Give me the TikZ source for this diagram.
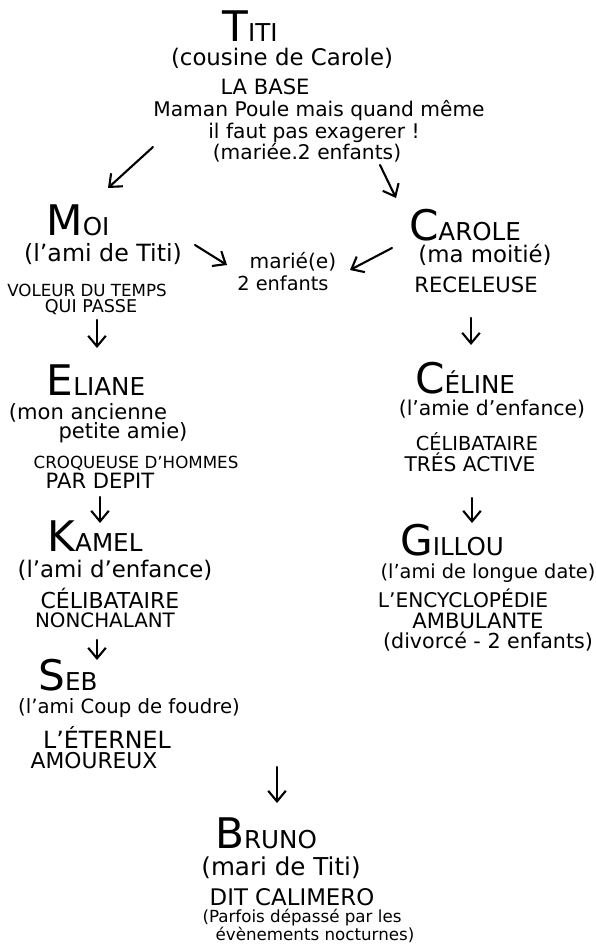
\documentclass[tikz,border=0pt]{standalone}
\usepackage{fontspec}
\setmainfont{DejaVu Sans}
\usetikzlibrary{arrows.meta}

\newcommand{\fs}[1]{\fontsize{#1}{#1}\selectfont}
\newcommand{\pname}[2]{{\fs{24}#1}{\fs{14}#2}}

\tikzset{
	who/.style = {anchor=base, inner sep=0pt},
	role/.style = {anchor=base, inner sep=0pt, font=\fs{12}},
	remark/.style = {anchor=base, inner sep=0pt, font=\fs{11.5}},
	trait/.style = {anchor=base, inner sep=0pt, font=\fs{11.5}},
	arr/.style = {-{Straight Barb[length=6pt,width=10pt]}, line width=1.2pt, line cap=round}
}

\begin{document}
\begin{tikzpicture}[x=0.2mm, y=-0.2mm]
			\useasboundingbox (0,0) rectangle (595,951);
			
			\node[who] (titi) at (250,42) {\pname{T}{ITI}};
			\node[role, font=\fs{13}] (titirole) at (282,66) {(cousine de Carole)};
			\node[trait, font=\fs{12}] (titibase) at (265,95) {LA BASE};
			\node[remark] (titinote1) at (319,116) {Maman Poule mais quand même};
			\node[remark] (titinote2) at (314,138) {il faut pas exagerer !};
			\node[remark] (titistatus) at (307,160) {(mariée.2 enfants)};
			
			\node[who] (moi) at (78,235) {\pname{M}{OI}};
			\node[role, font=\fs{13.5}] (moirole) at (103,261) {(l'ami de Titi)};
			\node[trait, font=\fs{9.5}] (moitrait1) at (87,296) {VOLEUR DU TEMPS};
			\node[trait, font=\fs{10}] (moitrait2) at (91,312) {QUI PASSE};
			
			\node[remark] (marie) at (293,268) {marié(e)};
			\node[remark, font=\fs{11}] (marie2) at (283,290) {2 enfants};
			
			\node[who] (carole) at (465,240) {\pname{C}{AROLE}};
			\node[role, font=\fs{13}] (carolerole) at (485,262) {(ma moitié)};
			\node[trait, font=\fs{12}] (caroletrait) at (476,292) {RECELEUSE};
			
			\node[who] (eliane) at (96,395) {\pname{E}{LIANE}};
			\node[role] (elianerole1) at (88,419) {(mon ancienne};
			\node[role] (elianerole2) at (123,438) {petite amie)};
			\node[trait, font=\fs{9.5}] (elianetrait1) at (136,468) {CROQUEUSE D'HOMMES};
			\node[trait, font=\fs{12}] (elianetrait2) at (100,488) {PAR DEPIT};
			
			\node[who] (kamel) at (95,551) {\pname{K}{AMEL}};
			\node[role, font=\fs{13}] (kamelrole) at (115,577) {(l'ami d'enfance)};
			\node[trait, font=\fs{12.5}] (kameltrait1) at (110,608) {CÉLIBATAIRE};
			\node[trait, font=\fs{11.3}] (kameltrait2) at (105,627) {NONCHALANT};
			
			\node[who] (seb) at (68,690) {\pname{S}{EB}};
			\node[role, font=\fs{11.2}] (sebrole) at (129,713) {(l'ami Coup de foudre)};
			\node[trait, font=\fs{13.5}] (sebtrait1) at (107,748) {L'ÉTERNEL};
			\node[trait, font=\fs{12.4}] (sebtrait2) at (94,768) {AMOUREUX};
			
			\node[who] (celine) at (465,393) {\pname{C}{ÉLINE}};
			\node[role, font=\fs{11.6}] (celinerole) at (492,415) {(l'amie d'enfance)};
			\node[trait, font=\fs{11}] (celinetrait1) at (477,450) {CÉLIBATAIRE};
			\node[trait] (celinetrait2) at (470,471) {TRÉS ACTIVE};
			
			\node[who] (gillou) at (452,555) {\pname{G}{ILLOU}};
			\node[role, font=\fs{11}] (gillourole) at (488,578) {(l'ami de longue date)};
			\node[trait] (gilloutrait1) at (463,607) {L'ENCYCLOPÉDIE};
			\node[trait, font=\fs{12}] (gilloutrait2) at (478,628) {AMBULANTE};
			\node[remark, font=\fs{11.75}] (gillounote) at (488,648) {(divorcé - 2 enfants)};
			
			\node[who] (bruno) at (266,848) {\pname{B}{RUNO}};
			\node[role, font=\fs{14}] (brunorole) at (281,875) {(mari de Titi)};
			\node[trait, font=\fs{13}] (brunotrait) at (292,905) {DIT CALIMERO};
			\node[remark, font=\fs{9.5}] (brunonote1) at (302,922) {(Parfois dépassé par les};
			\node[remark, font=\fs{9.5}] (brunonote2) at (315,940) {évènements nocturnes)};
			
			\draw[arr] ([shift={(-154,-13)}]titistatus.base) -- ([shift={(30,-47)}]moi.base);
			\draw[arr] ([shift={(73,5)}]titistatus.base) -- ([shift={(-69,-42)}]carole.base);
			\draw[arr] ([shift={(92,-16)}]moirole.base) -- ([shift={(-66,-3)}]marie.base);
			\draw[arr] ([shift={(-93,-14)}]carolerole.base) -- ([shift={(57,2)}]marie.base);
			\draw[arr] ([shift={(6,8)}]moitrait2.base) -- ([shift={(1,-47)}]eliane.base);
			\draw[arr] ([shift={(-5,26)}]caroletrait.base) -- ([shift={(6,-48)}]celine.base);
			\draw[arr] ([shift={(0,9)}]elianetrait2.base) -- ([shift={(5,-28)}]kamel.base);
			\draw[arr] ([shift={(-8,13)}]kameltrait2.base) -- ([shift={(29,-30)}]seb.base);
			\draw[arr] ([shift={(2,27)}]celinetrait2.base) -- ([shift={(20,-32)}]gillou.base);
			\draw[arr] ([shift={(183,-1)}]sebtrait2.base) -- ([shift={(11,-45)}]bruno.base);
		\end{tikzpicture}
\end{document}
